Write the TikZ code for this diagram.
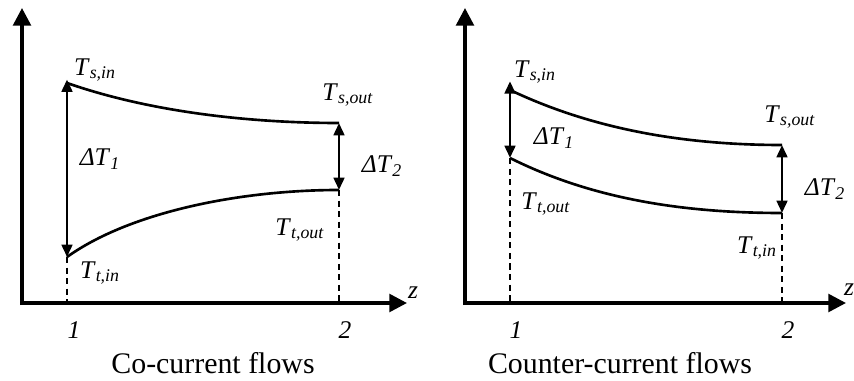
\documentclass[tikz,border=0pt]{standalone}
\usepackage{fontspec}
\setmainfont{Liberation Serif}
\usetikzlibrary{arrows.meta, positioning, calc}

% italic symbol with italic subscript
\newcommand{\tsub}[2]{\textit{#1}\textsubscript{\textit{#2}}}

\begin{document}
\begin{tikzpicture}[
    x=0.02cm, y=-0.02cm,
    % axes with big filled heads
    axis/.style={line width=2pt, -{Triangle[length=10pt, width=10pt]}},
    curve/.style={line width=1.5pt},
    dimarrow/.style={line width=1.6pt, {Triangle[length=7pt, width=6pt]}-{Triangle[length=7pt, width=6pt]}},
    guide/.style={line width=1.4pt, dash pattern=on 3.5pt off 2.5pt},
    lbl/.style={font=\fontsize{14.5}{16}\selectfont, inner sep=0pt},
    caption/.style={font=\fontsize{17}{20}\selectfont, inner sep=0pt}
]
\useasboundingbox (0,0) rectangle (854,381);

% =========================================================
% LEFT PANEL: CO-CURRENT
% =========================================================
\coordinate (oA) at (22,305);
\coordinate (yA) at (22,8);
\coordinate (x0A) at (20,303);
\coordinate (xA) at (407,303);

\coordinate (sinA) at (67,83);
\coordinate (soutA) at (339,123);
\coordinate (tinA) at (67,257);
\coordinate (toutA) at (339,190);
\coordinate (b1A) at (67,303);
\coordinate (b2A) at (339,303);

\draw[axis] (oA) -- (yA);
\draw[axis] (x0A) -- (xA);
\node[lbl] (zA) at (413,293) {\textit{z}};

% stream curves
\draw[curve] (sinA) .. controls (150,112) and (250,123) .. (soutA);
\draw[curve] (tinA) .. controls (130,212) and (240,190) .. (toutA);

% temperature differences
\draw[dimarrow] ([yshift=2pt]sinA) -- (tinA);
\draw[dimarrow] (soutA) -- (toutA);

% guides to the axis
\draw[guide] (tinA) -- (b1A);
\draw[guide] (toutA) -- (b2A);

\node[lbl] (lsinA) at (95,70) {\tsub{T}{s,in}};
\node[lbl] (lsoutA) at (348,95) {\tsub{T}{s,out}};
\node[lbl] (ldt1A) at (100,159) {\textit{ΔT}\textsubscript{\textit{1}}};
\node[lbl] (ldt2A) at (382,166) {\textit{ΔT}\textsubscript{\textit{2}}};
\node[lbl] (ltoutA) at (300,230) {\tsub{T}{t,out}};
\node[lbl] (ltinA) at (100,273) {\tsub{T}{t,in}};
\node[lbl] (n1A) at (74,330) {\textit{1}};
\node[lbl] (n2A) at (345,330) {\textit{2}};
\node[caption] (capA) at (213,363) {Co-current flows};

% =========================================================
% RIGHT PANEL: COUNTER-CURRENT
% =========================================================
\coordinate (oB) at (465,305);
\coordinate (yB) at (465,8);
\coordinate (x0B) at (463,303);
\coordinate (xB) at (846,303);

\coordinate (sinB) at (510,90);
\coordinate (soutB) at (782,145);
\coordinate (toutB) at (510,158);
\coordinate (tinB) at (782,213);
\coordinate (b1B) at (510,303);
\coordinate (b2B) at (782,303);

\draw[axis] (oB) -- (yB);
\draw[axis] (x0B) -- (xB);
\node[lbl] (zB) at (849,290) {\textit{z}};

% stream curves
\draw[curve] (sinB) .. controls (590,128) and (680,145) .. (soutB);
\draw[curve] (toutB) .. controls (590,198) and (680,213) .. (tinB);

% temperature differences
\draw[dimarrow] ([yshift=5pt]sinB) -- (toutB);
\draw[dimarrow] (soutB) -- (tinB);

% guides to the axis
\draw[guide] (toutB) -- (b1B);
\draw[guide] (tinB) -- (b2B);

\node[lbl] (lsinB) at (535,72) {\tsub{T}{s,in}};
\node[lbl] (lsoutB) at (790,117) {\tsub{T}{s,out}};
\node[lbl] (ldt1B) at (554,138) {\textit{ΔT}\textsubscript{\textit{1}}};
\node[lbl] (ldt2B) at (825,189) {\textit{ΔT}\textsubscript{\textit{2}}};
\node[lbl] (ltoutB) at (546,204) {\tsub{T}{t,out}};
\node[lbl] (ltinB) at (757,248) {\tsub{T}{t,in}};
\node[lbl] (n1B) at (516,330) {\textit{1}};
\node[lbl] (n2B) at (788,330) {\textit{2}};
\node[caption] (capB) at (620,363) {Counter-current flows};

\end{tikzpicture}
\end{document}
